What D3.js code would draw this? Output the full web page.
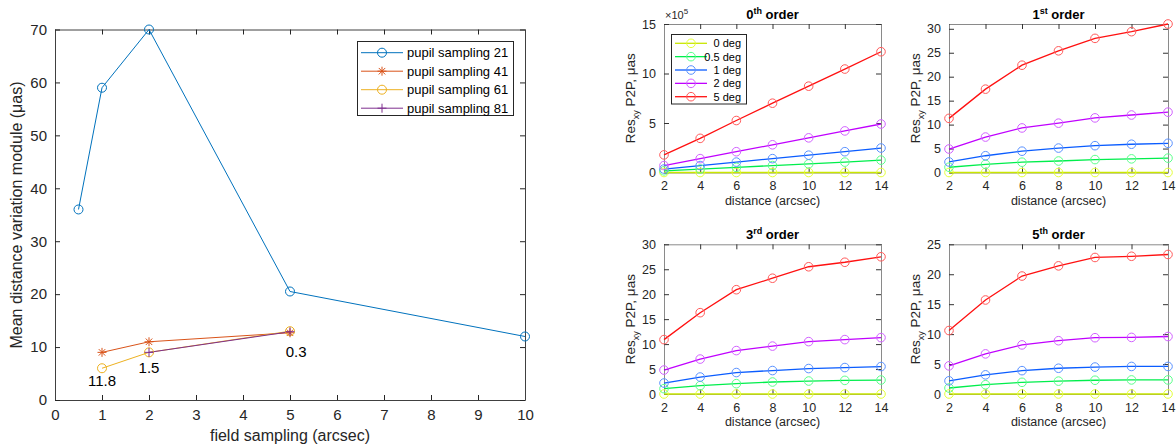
<!DOCTYPE html>
<html>
<head>
<meta charset="utf-8">
<script src="https://cdn.jsdelivr.net/npm/d3@7"></script>
<style>
  body { margin: 0; background: #fff; }
  svg { display: block; font-family: "Liberation Sans", Arial, sans-serif; }
  .tick text { fill: #262626; }
</style>
</head>
<body>
<div id="chart"></div>
<script>
'use strict';

// left chart: field sampling vs mean distance variation
var pupilNames = ['pupil sampling 21', 'pupil sampling 41', 'pupil sampling 61', 'pupil sampling 81'];
var pupil21 = [[0.5, 36], [1, 59], [2, 70], [5, 20.5], [10, 12]];
var pupil41 = [[1, 9], [2, 11], [5, 12.7]];
var pupil61 = [[1, 6], [2, 9], [5, 13]];
var pupil81 = [[2, 9], [5, 12.9]];
var noteLabels = [{x: 1, y: 3.6, t: '11.8'}, {x: 2, y: 6.0, t: '1.5'}, {x: 5.13, y: 9.1, t: '0.3'}];
var fieldTicks = d3.range(0, 11);
var meanTicks = d3.range(0, 71, 10);

// right panels: residuals vs distance
var distances = [2, 4, 6, 8, 10, 12, 14];
var degNames = ['0 deg', '0.5 deg', '1 deg', '2 deg', '5 deg'];
var order0 = [ // x10^5
  [0, 0, 0, 0, 0, 0, 0],
  [0.17, 0.35, 0.52, 0.7, 0.87, 1.05, 1.25],
  [0.35, 0.7, 1.05, 1.4, 1.75, 2.1, 2.47],
  [0.7, 1.4, 2.1, 2.8, 3.5, 4.2, 4.9],
  [1.78, 3.45, 5.25, 7.0, 8.72, 10.45, 12.2]
];
var order1 = [
  [0, 0, 0, 0, 0, 0, 0],
  [1.1, 1.7, 2.15, 2.4, 2.7, 2.85, 3.0],
  [2.2, 3.5, 4.45, 5.1, 5.6, 5.9, 6.1],
  [4.9, 7.4, 9.3, 10.3, 11.4, 12.0, 12.6],
  [11.3, 17.4, 22.4, 25.4, 28.0, 29.4, 31.0]
];
var order3 = [
  [0, 0, 0, 0, 0, 0, 0],
  [1.07, 1.67, 2.07, 2.4, 2.6, 2.73, 2.8],
  [2.2, 3.4, 4.3, 4.7, 5.1, 5.3, 5.5],
  [4.8, 7.0, 8.7, 9.6, 10.5, 10.9, 11.3],
  [10.9, 16.3, 20.9, 23.2, 25.5, 26.4, 27.5]
];
var order5 = [
  [0, 0, 0, 0, 0, 0, 0],
  [1.0, 1.55, 1.95, 2.15, 2.3, 2.35, 2.35],
  [2.2, 3.2, 3.9, 4.3, 4.5, 4.6, 4.6],
  [4.7, 6.7, 8.2, 8.9, 9.4, 9.45, 9.6],
  [10.6, 15.7, 19.7, 21.4, 22.8, 23.0, 23.3]
];
var orderNum = ['0', '1', '3', '5'];
var orderSup = ['th', 'st', 'rd', 'th'];
var orderMax = [15, 31, 30, 25];
var orderTicks = [[0, 5, 10, 15], [0, 5, 10, 15, 20, 25, 30], [0, 5, 10, 15, 20, 25, 30], [0, 5, 10, 15, 20, 25]];

var W = 1176, H = 447;
var svg = d3.select('#chart').append('svg').attr('width', W).attr('height', H);

var pupilColors = ['#0072BD', '#D95319', '#EDB120', '#7E2F8E'];
var pupilMarks = ['o', '*', 'o', '+'];

function marker(g, type, x, y, color, r) {
  if (type === 'o') {
    g.append('circle').attr('cx', x).attr('cy', y).attr('r', r)
      .attr('fill', 'none').attr('stroke', color).attr('stroke-width', 1);
  } else {
    var p = 'M' + (x - r) + ',' + y + 'H' + (x + r) + 'M' + x + ',' + (y - r) + 'V' + (y + r);
    if (type === '*') {
      var d = r * 0.72;
      p += 'M' + (x - d) + ',' + (y - d) + 'L' + (x + d) + ',' + (y + d) +
           'M' + (x - d) + ',' + (y + d) + 'L' + (x + d) + ',' + (y - d);
    }
    g.append('path').attr('d', p).attr('fill', 'none').attr('stroke', color).attr('stroke-width', 1);
  }
}

// ---------- left chart ----------
var lx = d3.scaleLinear().domain([0, 10]).range([55, 525]);
var ly = d3.scaleLinear().domain([0, 70]).range([400, 29.5]);
var left = svg.append('g');

function frame(g, x, y, fs, color, tickX, tickY) {
  var x0 = x.range()[0], x1 = x.range()[1], y0 = y.range()[0], y1 = y.range()[1];
  g.append('g').attr('transform', 'translate(0,' + y0 + ')')
    .call(d3.axisBottom(x).tickValues(tickX).tickSize(-5).tickPadding(9).tickSizeOuter(0));
  g.append('g').attr('transform', 'translate(0,' + y1 + ')')
    .call(d3.axisTop(x).tickValues(tickX).tickSize(-5).tickFormat('').tickSizeOuter(0));
  g.append('g').attr('transform', 'translate(' + x0 + ',0)')
    .call(d3.axisLeft(y).tickValues(tickY).tickSize(-5).tickPadding(8).tickSizeOuter(0));
  g.append('g').attr('transform', 'translate(' + x1 + ',0)')
    .call(d3.axisRight(y).tickValues(tickY).tickSize(-5).tickFormat('').tickSizeOuter(0));
  g.selectAll('.domain').attr('stroke', color);
  g.selectAll('.tick line').attr('stroke', '#262626');
  g.selectAll('.tick text').style('font-size', fs + 'px').attr('fill', '#262626');
}

frame(left, lx, ly, 15, '#404040', fieldTicks, meanTicks);

var line = d3.line().x(function(d) { return lx(d[0]); }).y(function(d) { return ly(d[1]); });
[pupil21, pupil41, pupil61, pupil81].forEach(function(s, i) {
  left.append('path').datum(s).attr('d', line)
    .attr('fill', 'none').attr('stroke', pupilColors[i]).attr('stroke-width', 1);
});
[pupil21, pupil41, pupil61, pupil81].forEach(function(s, i) {
  s.forEach(function(d) { marker(left, pupilMarks[i], lx(d[0]), ly(d[1]), pupilColors[i], 4.5); });
});

left.selectAll('text.note').data(noteLabels).enter().append('text')
  .attr('class', 'note')
  .attr('x', function(d) { return lx(d.x); })
  .attr('y', function(d) { return ly(d.y); })
  .attr('dy', '0.35em')
  .attr('text-anchor', 'middle')
  .style('font-size', '15px').attr('fill', '#000')
  .text(function(d) { return d.t; });

left.append('text')
  .attr('transform', 'translate(22,215) rotate(-90)')
  .attr('text-anchor', 'middle')
  .style('font-size', '16px').attr('fill', '#262626')
  .text('Mean distance variation module (\u03BCas)');
left.append('text')
  .attr('x', 290).attr('y', 441)
  .attr('text-anchor', 'middle')
  .style('font-size', '16px').attr('fill', '#262626')
  .text('field sampling (arcsec)');

var lg = left.append('g');
lg.append('rect').attr('x', 357.5).attr('y', 41.5).attr('width', 156).attr('height', 74)
  .attr('fill', '#fff').attr('stroke', '#262626').attr('stroke-width', 1);
pupilNames.forEach(function(n, i) {
  var yy = 52.7 + i * 18.5;
  lg.append('line').attr('x1', 361).attr('x2', 403).attr('y1', yy).attr('y2', yy)
    .attr('stroke', pupilColors[i]).attr('stroke-width', 1);
  marker(lg, pupilMarks[i], 382, yy, pupilColors[i], 4.5);
  lg.append('text').attr('x', 407).attr('y', yy).attr('dy', '0.35em')
    .style('font-size', '13px').attr('fill', '#000').text(n);
});

// ---------- right panels ----------
var degColors = ['#c9e600', '#00ee4c', '#0a5cff', '#c000ff', '#ff1010'];
var degMarkers = ['#e4ff3a', '#5cff8c', '#5a92ff', '#d262ff', '#ff5a5a'];
var panels = [
  {data: order0, x0: 664, x1: 881, y0: 172.5, y1: 24},
  {data: order1, x0: 949, x1: 1168, y0: 172.5, y1: 24},
  {data: order3, x0: 664, x1: 881, y0: 394, y1: 244.3},
  {data: order5, x0: 949, x1: 1168, y0: 394, y1: 244.3}
];

panels.forEach(function(p, k) {
  var g = svg.append('g');
  var x = d3.scaleLinear().domain([2, 14]).range([p.x0, p.x1]);
  var y = d3.scaleLinear().domain([0, orderMax[k]]).range([p.y0, p.y1]);
  frame(g, x, y, 12.5, '#8a8a8a', distances, orderTicks[k]);
  g.selectAll('.tick line').attr('stroke', '#333');

  var ln = d3.line().x(function(d, i) { return x(distances[i]); }).y(function(d) { return y(d); });
  p.data.forEach(function(s, i) {
    g.append('path').datum(s).attr('d', ln).attr('fill', 'none')
      .attr('stroke', degColors[i]).attr('stroke-width', 1.3);
  });
  p.data.forEach(function(s, i) {
    g.selectAll(null).data(s).enter().append('circle')
      .attr('cx', function(d, j) { return x(distances[j]); })
      .attr('cy', function(d) { return y(d); })
      .attr('r', 4.3).attr('fill', 'none')
      .attr('stroke', degMarkers[i]).attr('stroke-width', 1);
  });

  var title = g.append('text').attr('x', (p.x0 + p.x1) / 2).attr('y', p.y1 - 5)
    .attr('text-anchor', 'middle').style('font-size', '13px').style('font-weight', 'bold').attr('fill', '#000');
  title.append('tspan').text(orderNum[k]);
  title.append('tspan').attr('dy', -5).style('font-size', '9px').text(orderSup[k]);
  title.append('tspan').attr('dy', 5).text(' order');

  g.append('text').attr('x', (p.x0 + p.x1) / 2).attr('y', p.y0 + 32)
    .attr('text-anchor', 'middle').style('font-size', '12.5px').attr('fill', '#262626')
    .text('distance (arcsec)');

  var yl = g.append('text')
    .attr('transform', 'translate(' + (p.x0 - 29) + ',' + ((p.y0 + p.y1) / 2) + ') rotate(-90)')
    .attr('text-anchor', 'middle').style('font-size', '13.5px').attr('fill', '#262626');
  yl.append('tspan').text('Res');
  yl.append('tspan').attr('dy', 4).style('font-size', '9px').text('xy');
  yl.append('tspan').attr('dy', -4).text(' P2P, \u03BCas');

  if (k === 0) {
    var ex = g.append('text').attr('x', p.x0 + 1).attr('y', p.y1 - 5)
      .style('font-size', '11px').attr('fill', '#262626');
    ex.append('tspan').text('\u00D710');
    ex.append('tspan').attr('dy', -5).style('font-size', '8px').text('5');

    var leg = g.append('g');
    leg.append('rect').attr('x', 671.5).attr('y', 34.5).attr('width', 75).attr('height', 69.5)
      .attr('fill', '#fff').attr('stroke', '#262626').attr('stroke-width', 1);
    degNames.forEach(function(n, i) {
      var yy = 43.3 + i * 13.35;
      leg.append('line').attr('x1', 675).attr('x2', 707).attr('y1', yy).attr('y2', yy)
        .attr('stroke', degColors[i]).attr('stroke-width', 1.3);
      leg.append('circle').attr('cx', 691).attr('cy', yy).attr('r', 4.3)
        .attr('fill', 'none').attr('stroke', degMarkers[i]).attr('stroke-width', 1);
      leg.append('text').attr('x', 741).attr('y', yy).attr('dy', '0.35em')
        .attr('text-anchor', 'end').style('font-size', '11px').attr('fill', '#000').text(n);
    });
  }
});
</script>
</body>
</html>
